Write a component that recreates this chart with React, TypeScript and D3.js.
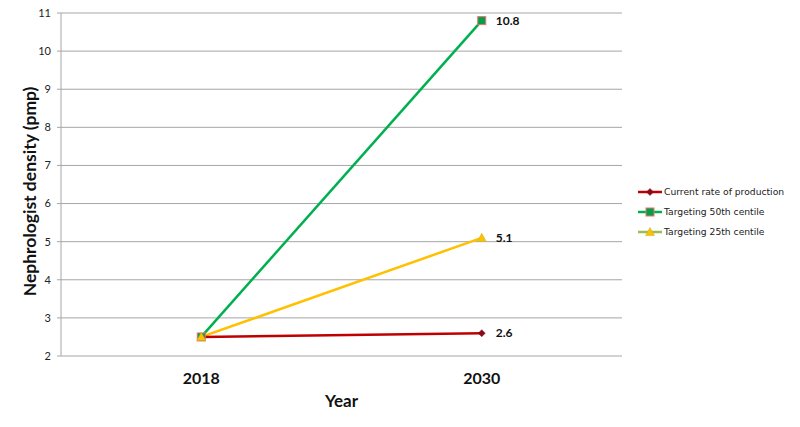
import React from 'react'
import * as d3 from 'd3'

const years = ['2018', '2030']
const currentRate = [2.5, 2.6]
const target50 = [2.5, 10.8]
const target25 = [2.5, 5.1]
const yTicks = [2, 3, 4, 5, 6, 7, 8, 9, 10, 11]
const seriesNames = ['Current rate of production', 'Targeting 50th centile', 'Targeting 25th centile']

const width = 800
const height = 427
const margin = { top: 13, right: 178, bottom: 71, left: 61 }

function Marker({ kind, x, y }: { kind: string; x: number; y: number }) {
  if (kind === 'diamond') {
    const s = 3.5
    return <path d={`M${x},${y - s}L${x + s},${y}L${x},${y + s}L${x - s},${y}Z`} fill="#8b0a1a" stroke="#8b0a1a" strokeWidth={0.5} />
  }
  if (kind === 'square') {
    return <rect x={x - 4} y={y - 4} width={8} height={8} fill="#00a04a" stroke="#f07070" strokeWidth={1} />
  }
  const s = 4.5
  return <path d={`M${x},${y - s}L${x + s},${y + s * 0.8}L${x - s},${y + s * 0.8}Z`} fill="#ffc000" stroke="#c8b020" strokeWidth={0.5} />
}

export default function App() {
  const innerW = width - margin.left - margin.right
  const innerH = height - margin.top - margin.bottom

  const x = d3.scaleBand().domain(years).range([margin.left, margin.left + innerW])
  const y = d3.scaleLinear().domain([2, 11]).range([margin.top + innerH, margin.top])
  const cx = (d: string) => (x(d) as number) + x.bandwidth() / 2

  const line = d3.line<number>()
    .x((_, i) => cx(years[i]))
    .y(d => y(d))

  const series = [
    { name: seriesNames[0], values: currentRate, color: '#c00000', legendColor: '#c00000', marker: 'diamond' },
    { name: seriesNames[1], values: target50, color: '#00b050', legendColor: '#00b050', marker: 'square' },
    { name: seriesNames[2], values: target25, color: '#ffc000', legendColor: '#9bbb59', marker: 'triangle' },
  ]
  // lines: yellow under red; markers: yellow on top at 2018
  const lineOrder = [series[1], series[2], series[0]]

  const font = 'Lato, "Open Sans", sans-serif'
  const legendFont = '"DejaVu Sans", Verdana, sans-serif'

  return (
    <div style={{ margin: -8 }}>
      <svg width={width} height={height} style={{ display: 'block', fontFamily: font }}>
        <rect x={0.5} y={0.5} width={width - 2} height={height - 3} fill="#fff" stroke="#a0a0a0" strokeWidth={1} />

        {yTicks.map(t => (
          <g key={t}>
            <line x1={margin.left} x2={margin.left + innerW} y1={y(t)} y2={y(t)} stroke="#a6a6a6" strokeWidth={1} />
            <line x1={margin.left - 4} x2={margin.left} y1={y(t)} y2={y(t)} stroke="#a6a6a6" strokeWidth={1} />
            <text x={margin.left - 10} y={y(t)} dy="0.35em" textAnchor="end" fontSize={11} fill="#222">{t}</text>
          </g>
        ))}
        <line x1={margin.left} x2={margin.left} y1={margin.top} y2={margin.top + innerH} stroke="#a6a6a6" strokeWidth={1} />

        {years.map(yr => (
          <text key={yr} x={cx(yr)} y={margin.top + innerH + 28} textAnchor="middle" fontSize={16} fontWeight="bold" fill="#111">{yr}</text>
        ))}

        <text x={cx(years[0]) / 2 + cx(years[1]) / 2} y={height - 20} textAnchor="middle" fontSize={17} fontWeight="bold" fill="#111">Year</text>
        <text transform={`translate(36,${margin.top + innerH / 2 + 7}) rotate(-90)`} textAnchor="middle" fontSize={17.5} fontWeight="bold" fill="#111">Nephrologist density (pmp)</text>

        {lineOrder.map(s => (
          <path key={s.name} d={line(s.values) || ''} fill="none" stroke={s.color} strokeWidth={2.5} />
        ))}
        {series.map(s => (
          <g key={s.name + 'm'}>
            {s.values.map((v, i) => (
              <Marker key={i} kind={s.marker} x={cx(years[i])} y={y(v)} />
            ))}
            <text x={cx(years[1]) + 14} y={y(s.values[1])} dy="0.35em" fontSize={12} fontWeight="bold" fill="#111">{s.values[1]}</text>
          </g>
        ))}

        {series.map((s, i) => (
          <g key={s.name + 'l'} transform={`translate(638,${192 + i * 20})`}>
            <line x1={0} x2={24} y1={0} y2={0} stroke={s.legendColor} strokeWidth={2.5} />
            <Marker kind={s.marker} x={12} y={0} />
            <text x={26} y={0} dy="0.35em" fontSize={9.2} fill="#222" style={{ fontFamily: legendFont }}>{s.name}</text>
          </g>
        ))}
      </svg>
    </div>
  )
}
